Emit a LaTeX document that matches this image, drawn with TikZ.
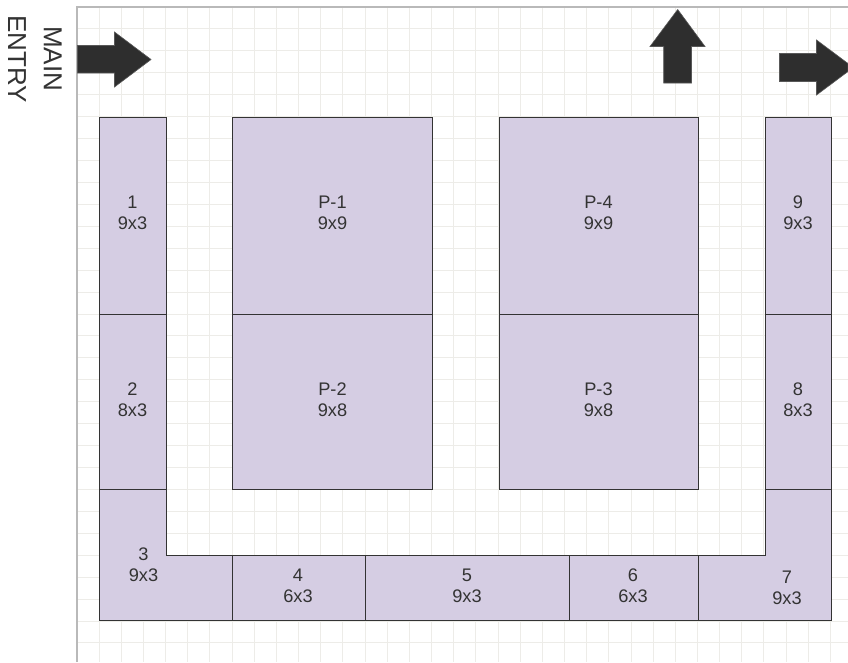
\documentclass[tikz,border=0pt]{standalone}
\usepackage{fontspec}
\setmainfont{Liberation Sans}
\definecolor{roomfill}{HTML}{D5CDE3}
\definecolor{ink}{HTML}{333333}
\definecolor{gridc}{HTML}{EDECE8}
\definecolor{framec}{HTML}{B9B9B9}
\definecolor{arrowc}{HTML}{2E2E2E}
\tikzset{
  room/.style={draw=ink,fill=roomfill,line width=0.8pt,line join=miter},
  roombox/.style={room,rectangle,inner sep=0pt,outer sep=0pt},
  lab/.style={text=ink,align=center,inner sep=0pt,font=\fontsize{18.2}{21}\selectfont},
  bigarrow/.style={fill=arrowc,draw=arrowc!80!white,line width=0.6pt,line join=miter},
  side/.style={text=ink,inner sep=0pt,rotate=-90,font=\fontsize{26}{30}\selectfont}
}
\newcommand{\roomnode}[5]{%
  \path let \n1={#4-#2},\n2={#5-#3} in
    node[roombox,minimum width=\n1 pt,minimum height=\n2 pt,anchor=north west] (#1) at (#2,#3) {};
}
\usetikzlibrary{calc}
\begin{document}
\begin{tikzpicture}[x=1pt,y=-1pt]
\useasboundingbox (0,0) rectangle (848,662);
\fill[white] (0,0) rectangle (848,662);
% grid
\foreach \k in {1,...,34} \draw[gridc,line width=1pt] ({77.0+22.16*\k},7) -- ({77.0+22.16*\k},662);
\foreach \k in {1,...,29} \draw[gridc,line width=1pt] (77,{7+21.93*\k}) -- (848,{7+21.93*\k});
\draw[framec,line width=1.1pt] (77,662) -- (77,7) -- (848,7);
% rooms
\roomnode{r1}{99.3}{117.3}{166}{314}
\roomnode{r2}{99.3}{314}{166}{489.3}
\roomnode{p1}{232.4}{117.3}{432.4}{314}
\roomnode{p2}{232.4}{314}{432.4}{489.3}
\roomnode{p4}{499}{117.3}{698.4}{314}
\roomnode{p3}{499}{314}{698.4}{489.3}
\roomnode{r9}{765.1}{117.3}{831.7}{314}
\roomnode{r8}{765.1}{314}{831.7}{489.3}
\draw[room] (99.3,489.3) -- (166,489.3) -- (166,555.3) -- (232.4,555.3) -- (232.4,620.8) -- (99.3,620.8) -- cycle;
\roomnode{r4}{232.4}{555.3}{365.3}{620.8}
\roomnode{r5}{365.3}{555.3}{569.3}{620.8}
\roomnode{r6}{569.3}{555.3}{698.4}{620.8}
\draw[room] (698.4,555.3) -- (765.1,555.3) -- (765.1,489.3) -- (831.7,489.3) -- (831.7,620.8) -- (698.4,620.8) -- cycle;
% labels
\node[lab] (t1) at (132.5,213) {1\\9x3};
\node[lab] (t2) at (132.5,399.5) {2\\8x3};
\node[lab] (t3) at (143.5,564.5) {3\\9x3};
\node[lab] (t4) at (298,585.5) {4\\6x3};
\node[lab] (t5) at (467,585.5) {5\\9x3};
\node[lab] (t6) at (633,585.5) {6\\6x3};
\node[lab] (t7) at (787,587.5) {7\\9x3};
\node[lab] (t8) at (798,399.5) {8\\8x3};
\node[lab] (t9) at (798,213) {9\\9x3};
\node[lab] (tp1) at (332.5,213) {P-1\\9x9};
\node[lab] (tp2) at (332.5,399.5) {P-2\\9x8};
\node[lab] (tp4) at (598.5,213) {P-4\\9x9};
\node[lab] (tp3) at (598.5,399.5) {P-3\\9x8};
% arrows
\draw[bigarrow] (77.5,45.5) -- (114.5,45.5) -- (114.5,32) -- (151,59.5) -- (114.5,87) -- (114.5,73) -- (77.5,73) -- cycle;
\draw[bigarrow] (677.7,9.5) -- (705,46.5) -- (691.5,46.5) -- (691.5,83) -- (663.7,83) -- (663.7,46.5) -- (650,46.5) -- cycle;
\draw[bigarrow] (779.5,53.5) -- (816.5,53.5) -- (816.5,40) -- (848,63.5) -- (848,71.5) -- (816.5,95) -- (816.5,81.5) -- (779.5,81.5) -- cycle;
% side text
\node[side] (tmain) at (52.8,58.5) {MAIN};
\node[side] (tentry) at (17,59) {ENTRY};
\end{tikzpicture}
\end{document}
